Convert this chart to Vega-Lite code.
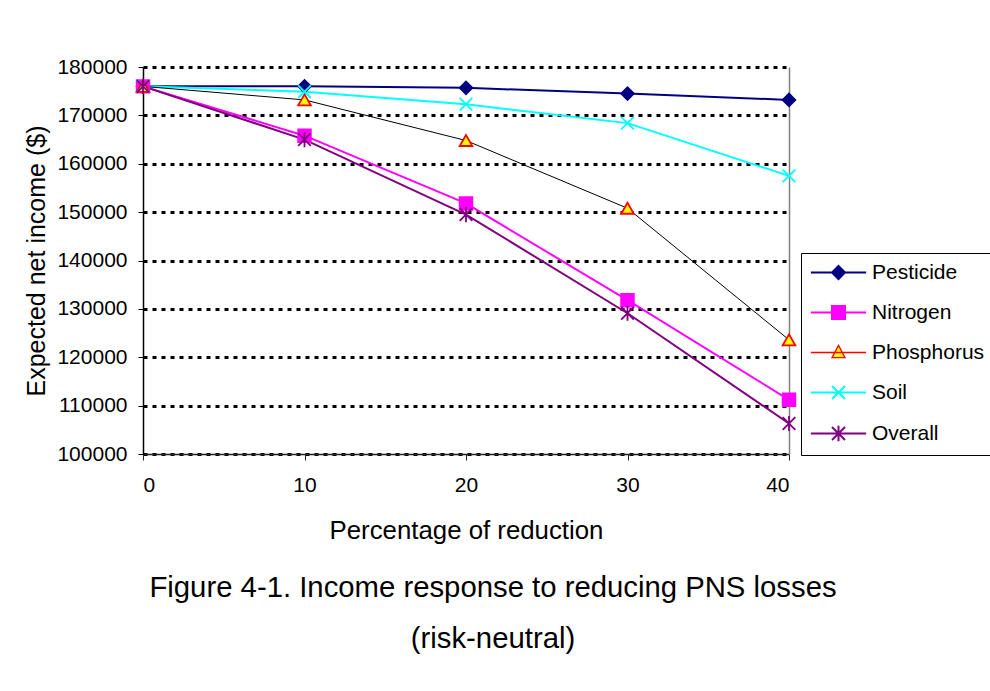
{
  "$schema": "https://vega.github.io/schema/vega-lite/v6.json",
  "width": 646,
  "height": 387,
  "autosize": {"type": "none"},
  "padding": {"left": 143, "top": 67, "right": 201, "bottom": 237},
  "background": "white",
  "config": {
    "font": "Liberation Sans",
    "view": {"stroke": null},
    "axis": {"labelColor": "black", "titleColor": "black", "labelFont": "Liberation Sans", "titleFont": "Liberation Sans", "titleFontWeight": "normal"},
    "legend": {"labelFont": "Liberation Sans"}
  },
  "title": {
    "text": ["Figure 4-1. Income response to reducing PNS losses", "(risk-neutral)"],
    "orient": "bottom",
    "anchor": "middle",
    "fontSize": 29.3,
    "fontWeight": "normal",
    "font": "Liberation Sans",
    "color": "black",
    "lineHeight": 51,
    "dx": 27,
    "offset": 31
  },
  "data": {
    "values": [
      {"series": "Pesticide", "pct": 0, "income": 176000},
      {"series": "Pesticide", "pct": 10, "income": 176000},
      {"series": "Pesticide", "pct": 20, "income": 175700},
      {"series": "Pesticide", "pct": 30, "income": 174500},
      {"series": "Pesticide", "pct": 40, "income": 173200},
      {"series": "Nitrogen", "pct": 0, "income": 176000},
      {"series": "Nitrogen", "pct": 10, "income": 165800},
      {"series": "Nitrogen", "pct": 20, "income": 151800},
      {"series": "Nitrogen", "pct": 30, "income": 131800},
      {"series": "Nitrogen", "pct": 40, "income": 111200},
      {"series": "Phosphorus", "pct": 0, "income": 176000},
      {"series": "Phosphorus", "pct": 10, "income": 173200},
      {"series": "Phosphorus", "pct": 20, "income": 164800},
      {"series": "Phosphorus", "pct": 30, "income": 150800},
      {"series": "Phosphorus", "pct": 40, "income": 123600},
      {"series": "Soil", "pct": 0, "income": 176000},
      {"series": "Soil", "pct": 10, "income": 174900},
      {"series": "Soil", "pct": 20, "income": 172300},
      {"series": "Soil", "pct": 30, "income": 168400},
      {"series": "Soil", "pct": 40, "income": 157500},
      {"series": "Overall", "pct": 0, "income": 176000},
      {"series": "Overall", "pct": 10, "income": 165000},
      {"series": "Overall", "pct": 20, "income": 149500},
      {"series": "Overall", "pct": 30, "income": 129100},
      {"series": "Overall", "pct": 40, "income": 106300}
    ]
  },
  "encoding": {
    "x": {
      "field": "pct",
      "type": "quantitative",
      "title": "Percentage of reduction",
      "scale": {"domain": [0, 40], "nice": false},
      "axis": {
        "values": [0, 10, 20, 30, 40],
        "grid": false,
        "domainColor": "#222222",
        "domainWidth": 1.5,
        "tickColor": "#222222",
        "tickSize": 6,
        "labelFontSize": 21,
        "labelPadding": 14,
        "titleFontSize": 25.8,
        "titlePadding": 23
      }
    }
  },
  "layer": [
    {
      "transform": [{"filter": "datum.series !== 'Phosphorus'"}],
      "mark": {"type": "line", "strokeWidth": 2},
      "encoding": {
        "y": {
          "field": "income",
          "type": "quantitative",
          "title": "Expected net income ($)",
          "scale": {"domain": [100000, 180000], "nice": false, "zero": false},
          "axis": {
            "orient": "left",
            "values": [100000, 110000, 120000, 130000, 140000, 150000, 160000, 170000, 180000],
            "format": "d",
            "grid": true,
            "gridColor": "black",
            "gridDash": [4, 5],
            "gridWidth": 3,
            "gridOpacity": 1,
            "domainColor": "black",
            "domainWidth": 1.5,
            "tickColor": "black",
            "tickSize": 5,
            "labelFontSize": 21,
            "labelPadding": 11,
            "titleFontSize": 25,
            "titlePadding": 7
          }
        },
        "color": {
          "field": "series",
          "type": "nominal",
          "scale": {
            "domain": ["Nitrogen", "Overall", "Pesticide", "Phosphorus", "Soil"],
            "range": ["#FF00FF", "#800080", "#000080", "#000000", "#00FFFF"]
          },
          "legend": null
        }
      }
    },
    {
      "transform": [{"filter": "datum.series === 'Phosphorus'"}],
      "mark": {"type": "line", "strokeWidth": 1},
      "encoding": {
        "y": {"field": "income", "type": "quantitative", "axis": null},
        "color": {"field": "series", "type": "nominal", "legend": null}
      }
    },
    {
      "mark": {"type": "point", "filled": true, "size": 160, "strokeWidth": 1.8, "opacity": 1},
      "encoding": {
        "y": {
          "field": "income",
          "type": "quantitative",
          "axis": {
            "orient": "right",
            "labels": false,
            "ticks": false,
            "grid": false,
            "title": null,
            "domainColor": "#808080",
            "domainWidth": 1.5
          }
        },
        "shape": {
          "field": "series",
          "type": "nominal",
          "scale": {
            "domain": ["Nitrogen", "Overall", "Pesticide", "Phosphorus", "Soil"],
            "range": ["square", "M-1,-1L1,1M-1,1L1,-1M0,-1.2V1.2", "diamond", "triangle-up", "M-1,-1L1,1M-1,1L1,-1"]
          },
          "legend": null
        },
        "fill": {
          "field": "series",
          "type": "nominal",
          "scale": {
            "domain": ["Pesticide", "Nitrogen", "Phosphorus", "Soil", "Overall"],
            "range": ["#000080", "#FF00FF", "#FFFF00", "transparent", "transparent"]
          },
          "legend": {
            "title": null,
            "orient": "none",
            "legendX": 658,
            "legendY": 186,
            "strokeColor": "black",
            "fillColor": "white",
            "padding": 9,
            "symbolSize": 169,
            "symbolStrokeWidth": 2,
            "symbolOffset": 18,
            "labelOffset": 23,
            "labelFontSize": 21,
            "labelColor": "black",
            "rowPadding": 18,
            "encoding": {
              "symbols": {
                "shape": {"value": {"expr": "datum.value === 'Pesticide' ? 'M-4.25,0H4.25M0,-1L1,0L0,1L-1,0Z' : datum.value === 'Nitrogen' ? 'M-4.25,0H4.25M-1,-1H1V1H-1Z' : datum.value === 'Phosphorus' ? 'M-4.25,0H4.25M0,-1.1L1,0.8H-1Z' : datum.value === 'Soil' ? 'M-4.25,0H4.25M-1,-1L1,1M-1,1L1,-1' : 'M-4.25,0H4.25M-1,-1L1,1M-1,1L1,-1M0,-1.2V1.2'"}},
                "strokeWidth": {"value": {"expr": "datum.value === 'Phosphorus' ? 1.3 : 2"}}
              }
            }
          }
        },
        "stroke": {
          "field": "series",
          "type": "nominal",
          "scale": {
            "domain": ["Pesticide", "Nitrogen", "Phosphorus", "Soil", "Overall"],
            "range": ["#000080", "#FF00FF", "#FF0000", "#00FFFF", "#800080"]
          },
          "legend": {
            "title": null,
            "orient": "none",
            "legendX": 658,
            "legendY": 186,
            "strokeColor": "black",
            "fillColor": "white",
            "padding": 9,
            "symbolSize": 169,
            "symbolStrokeWidth": 2,
            "symbolOffset": 18,
            "labelOffset": 23,
            "labelFontSize": 21,
            "labelColor": "black",
            "rowPadding": 18,
            "encoding": {
              "symbols": {
                "shape": {"value": {"expr": "datum.value === 'Pesticide' ? 'M-4.25,0H4.25M0,-1L1,0L0,1L-1,0Z' : datum.value === 'Nitrogen' ? 'M-4.25,0H4.25M-1,-1H1V1H-1Z' : datum.value === 'Phosphorus' ? 'M-4.25,0H4.25M0,-1.1L1,0.8H-1Z' : datum.value === 'Soil' ? 'M-4.25,0H4.25M-1,-1L1,1M-1,1L1,-1' : 'M-4.25,0H4.25M-1,-1L1,1M-1,1L1,-1M0,-1.2V1.2'"}},
                "strokeWidth": {"value": {"expr": "datum.value === 'Phosphorus' ? 1.3 : 2"}}
              }
            }
          }
        }
      }
    }
  ],
  "resolve": {"axis": {"y": "independent"}}
}
